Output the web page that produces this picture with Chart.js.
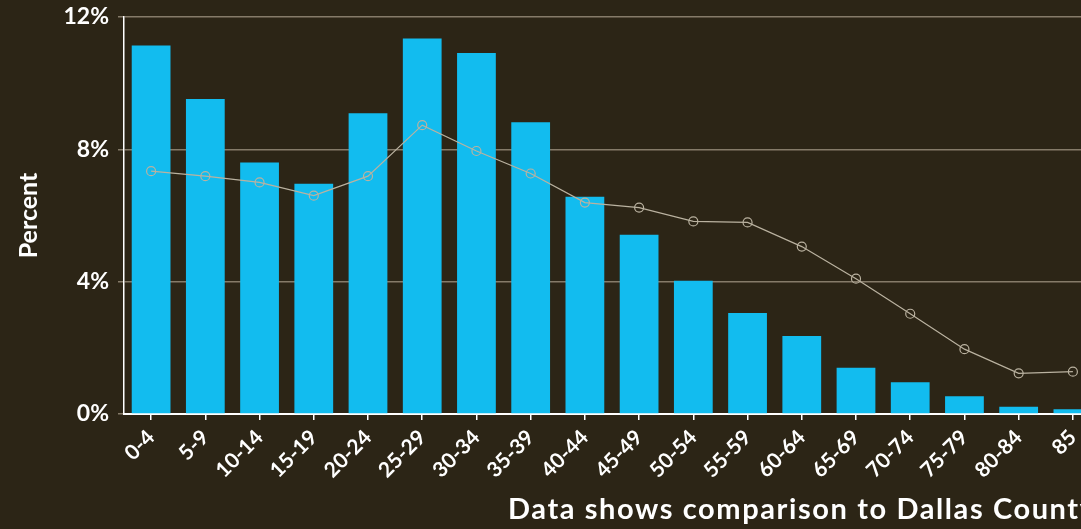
<!DOCTYPE html>
<html>
<head>
<meta charset="utf-8">
<script src="https://cdn.jsdelivr.net/npm/chart.js@4/dist/chart.umd.min.js"></script>
<style>
  html, body { margin: 0; padding: 0; background: #2c2516; overflow: hidden; }
  #wrap { position: relative; width: 1081px; height: 529px; overflow: hidden; }
  #chart { position: absolute; left: 0; top: 0; }
  #xtitle {
    position: absolute; left: 508px; top: 490px; white-space: nowrap;
    font: bold 29px Lato, "Open Sans", sans-serif; color: #fff; letter-spacing: 1.6px;
  }
</style>
</head>
<body>
<div id="wrap">
  <canvas id="chart" width="1110" height="529"></canvas>
  <div id="xtitle">Data shows comparison to Dallas County</div>
</div>
<script>
// age groups
const ages = ['0-4', '5-9', '10-14', '15-19', '20-24', '25-29', '30-34', '35-39', '40-44',
  '45-49', '50-54', '55-59', '60-64', '65-69', '70-74', '75-79', '80-84', '85'];
// area share, percent (bars)
const areaPct = [11.14, 9.52, 7.6, 6.96, 9.09, 11.35, 10.91, 8.82, 6.57,
  5.42, 4.03, 3.05, 2.36, 1.4, 0.96, 0.54, 0.22, 0.14];
// Dallas County share, percent (line)
const countyPct = [7.34, 7.19, 7.0, 6.6, 7.19, 8.73, 7.95, 7.27, 6.39,
  6.24, 5.82, 5.79, 5.06, 4.09, 3.03, 1.96, 1.23, 1.28];
const yTicks = [0, 4, 8, 12];

const font = 'Lato, "Open Sans", sans-serif';
const lineColor = '#bab2a0';

const data = {
  labels: ages,
  datasets: [
    {
      type: 'line',
      label: 'Dallas County',
      data: countyPct,
      borderColor: lineColor,
      borderWidth: 1.2,
      pointRadius: 4.5,
      pointBackgroundColor: 'rgba(0,0,0,0)',
      pointBorderColor: lineColor,
      pointBorderWidth: 1.2,
      order: 0
    },
    {
      type: 'bar',
      label: 'Area',
      data: areaPct,
      backgroundColor: '#12bcef',
      barPercentage: 0.715,
      categoryPercentage: 1,
      order: 1
    }
  ]
};

const config = {
  type: 'bar',
  data: data,
  options: {
    responsive: false,
    animation: false,
    layout: { padding: { top: 17, right: 10, left: 0, bottom: 0 } },
    plugins: {
      legend: { display: false },
      tooltip: { enabled: false }
    },
    scales: {
      x: {
        afterFit: function (s) { s.height = 115; },
        grid: {
          offset: false,
          drawOnChartArea: false,
          drawTicks: true,
          tickLength: 6,
          color: '#ffffff',
          lineWidth: 1.5
        },
        border: { color: '#ffffff', width: 2 },
        ticks: {
          color: '#ffffff',
          minRotation: 45,
          maxRotation: 45,
          padding: 5,
          font: { family: font, size: 21, weight: 'bold' }
        }
      },
      y: {
        min: 0,
        max: 12,
        afterFit: function (s) {
          s.width = 124;
          s.paddingTop = 0;
          s.paddingBottom = 0;
        },
        afterBuildTicks: function (s) { s.ticks = yTicks.map(v => ({ value: v })); },
        grid: {
          color: '#857b69',
          lineWidth: 1.5,
          tickLength: 6
        },
        border: { color: '#ffffff', width: 1.5 },
        ticks: {
          color: '#ffffff',
          padding: 9,
          callback: v => v + '%',
          font: { family: font, size: 23, weight: 'bold' }
        },
        title: {
          display: true,
          text: 'Percent',
          color: '#ffffff',
          padding: { top: 14, bottom: 12 },
          font: { family: font, size: 25, weight: 'bold' }
        }
      }
    }
  }
};

new Chart(document.getElementById('chart'), config);
</script>
</body>
</html>
